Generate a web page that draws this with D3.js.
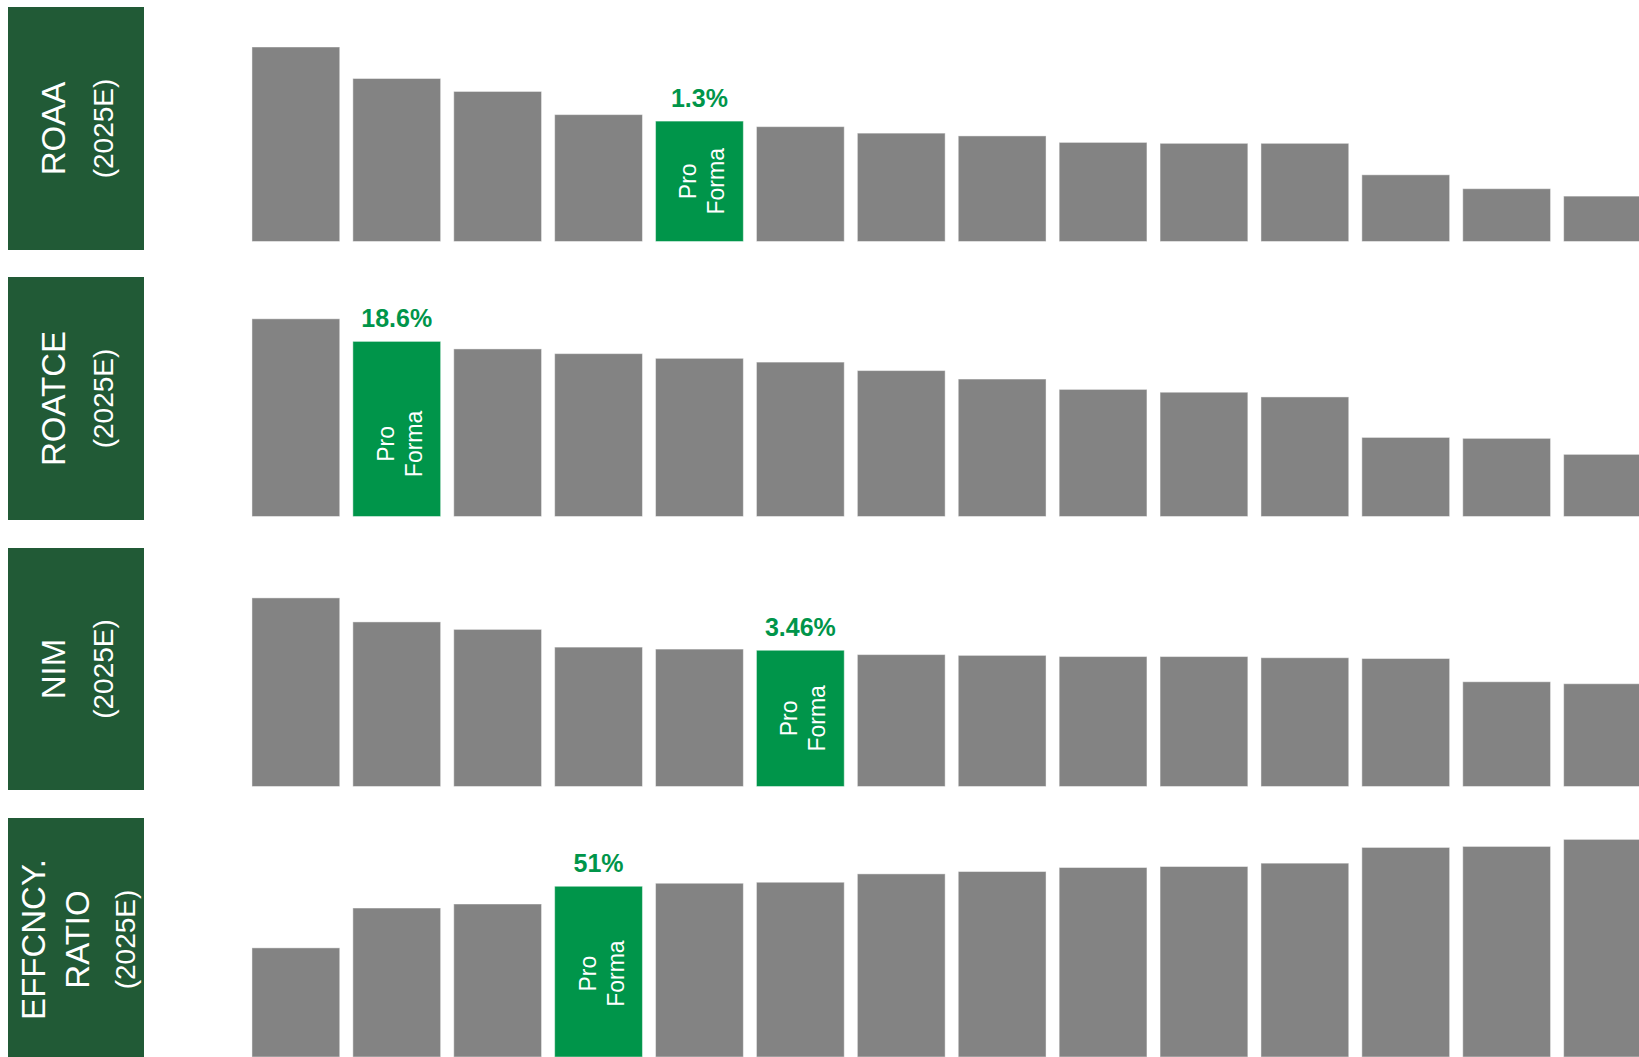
<!DOCTYPE html>
<html>
<head>
<meta charset="utf-8">
<script src="https://cdn.jsdelivr.net/npm/d3@7"></script>
<style>
  html, body { margin: 0; padding: 0; background: #fff; overflow: hidden; }
  svg { display: block; font-family: "Liberation Sans", Arial, sans-serif; }
</style>
</head>
<body>
<div id="chart"></div>
<script>
(function() {

  // peer ranking per metric, Pro Forma sits in the highlighted slot
  var peers = d3.range(14);

  var roaaValues = [2.10, 1.76, 1.62, 1.37, 1.30, 1.24, 1.17, 1.14, 1.07, 1.06, 1.06, 0.72, 0.57, 0.49];
  var roatceValues = [21.0, 18.6, 17.8, 17.3, 16.8, 16.4, 15.5, 14.6, 13.5, 13.2, 12.7, 8.4, 8.3, 6.6];
  var nimValues = [4.79, 4.18, 3.99, 3.54, 3.49, 3.46, 3.35, 3.33, 3.30, 3.30, 3.27, 3.25, 2.66, 2.61];
  var effValues = [32.6, 44.5, 45.7, 51.0, 51.9, 52.2, 54.7, 55.4, 56.6, 56.9, 57.9, 62.6, 62.9, 65.0];

  var proFormaIndex = [4, 1, 5, 3];
  var proFormaLabels = ['1.3%', '18.6%', '3.46%', '51%'];

  var metricLines = [
    ['ROAA', '(2025E)'],
    ['ROATCE', '(2025E)'],
    ['NIM', '(2025E)'],
    ['EFFCNCY.', 'RATIO', '(2025E)']
  ];

  var allValues = [roaaValues, roatceValues, nimValues, effValues];

  var width = 1639, height = 1057;
  var gray = '#838383', green = '#00954a', darkGreen = '#215a36';

  // layout of the four strips
  var panels = [
    { boxTop: 7,   boxBottom: 250,  bottom: 241.5, top: 47,    tagDy: 0 },
    { boxTop: 277, boxBottom: 520,  bottom: 516.5, top: 318.8, tagDy: 15 },
    { boxTop: 548, boxBottom: 790,  bottom: 786.5, top: 597.9, tagDy: 0 },
    { boxTop: 818, boxBottom: 1061, bottom: 1057,  top: 839.4, tagDy: 2 }
  ];

  var svg = d3.select('#chart').append('svg')
    .attr('width', width)
    .attr('height', height);

  var x = d3.scaleBand()
    .domain(peers)
    .range([245.4, 245.4 + 14 * 100.9])
    .paddingInner(0.13)
    .paddingOuter(0.065);

  var drawLabelBox = function(g, p, lines) {
    var cy = (p.boxTop + p.boxBottom) / 2;
    g.append('rect')
      .attr('x', 8)
      .attr('y', p.boxTop)
      .attr('width', 136)
      .attr('height', p.boxBottom - p.boxTop)
      .attr('fill', darkGreen);
    var specs = lines.length === 2
      ? [{ bx: 65, size: 33 }, { bx: 113, size: 28 }]
      : [{ bx: 45, size: 33 }, { bx: 89, size: 33 }, { bx: 135, size: 28 }];
    lines.forEach(function(txt, i) {
      g.append('text')
        .attr('transform', 'translate(' + specs[i].bx + ',' + cy + ') rotate(-90)')
        .attr('text-anchor', 'middle')
        .attr('fill', '#fff')
        .attr('font-size', specs[i].size)
        .text(txt);
    });
  };

  var drawBars = function(g, p, values, pfIdx, pfLabel) {
    var y = d3.scaleLinear()
      .domain([0, d3.max(values)])
      .range([p.bottom, p.top]);

    g.selectAll('rect.bar')
      .data(values)
      .enter().append('rect')
      .attr('class', 'bar')
      .attr('x', function(d, i) { return x(i); })
      .attr('y', function(d) { return y(d); })
      .attr('width', x.bandwidth())
      .attr('height', function(d) { return y(0) - y(d); })
      .attr('fill', function(d, i) { return i === pfIdx ? green : gray; })
      .attr('stroke', 'rgba(255,255,255,0.45)')
      .attr('stroke-width', 1);

    var cx = x(pfIdx) + x.bandwidth() / 2;
    var top = y(values[pfIdx]);

    g.append('text')
      .attr('x', cx)
      .attr('y', top - 14)
      .attr('text-anchor', 'middle')
      .attr('fill', green)
      .attr('font-weight', 'bold')
      .attr('font-size', 25)
      .text(pfLabel);

    var cy = (top + Math.min(y(0), height)) / 2 + p.tagDy;
    [['Pro', -3], ['Forma', 25]].forEach(function(t) {
      g.append('text')
        .attr('transform', 'translate(' + (cx + t[1]) + ',' + cy + ') rotate(-90)')
        .attr('text-anchor', 'middle')
        .attr('fill', '#fff')
        .attr('font-size', 23)
        .text(t[0]);
    });
  };

  panels.forEach(function(p, k) {
    var g = svg.append('g');
    drawBars(g, p, allValues[k], proFormaIndex[k], proFormaLabels[k]);
    drawLabelBox(g, p, metricLines[k]);
  });

}).call(this);
</script>
</body>
</html>
